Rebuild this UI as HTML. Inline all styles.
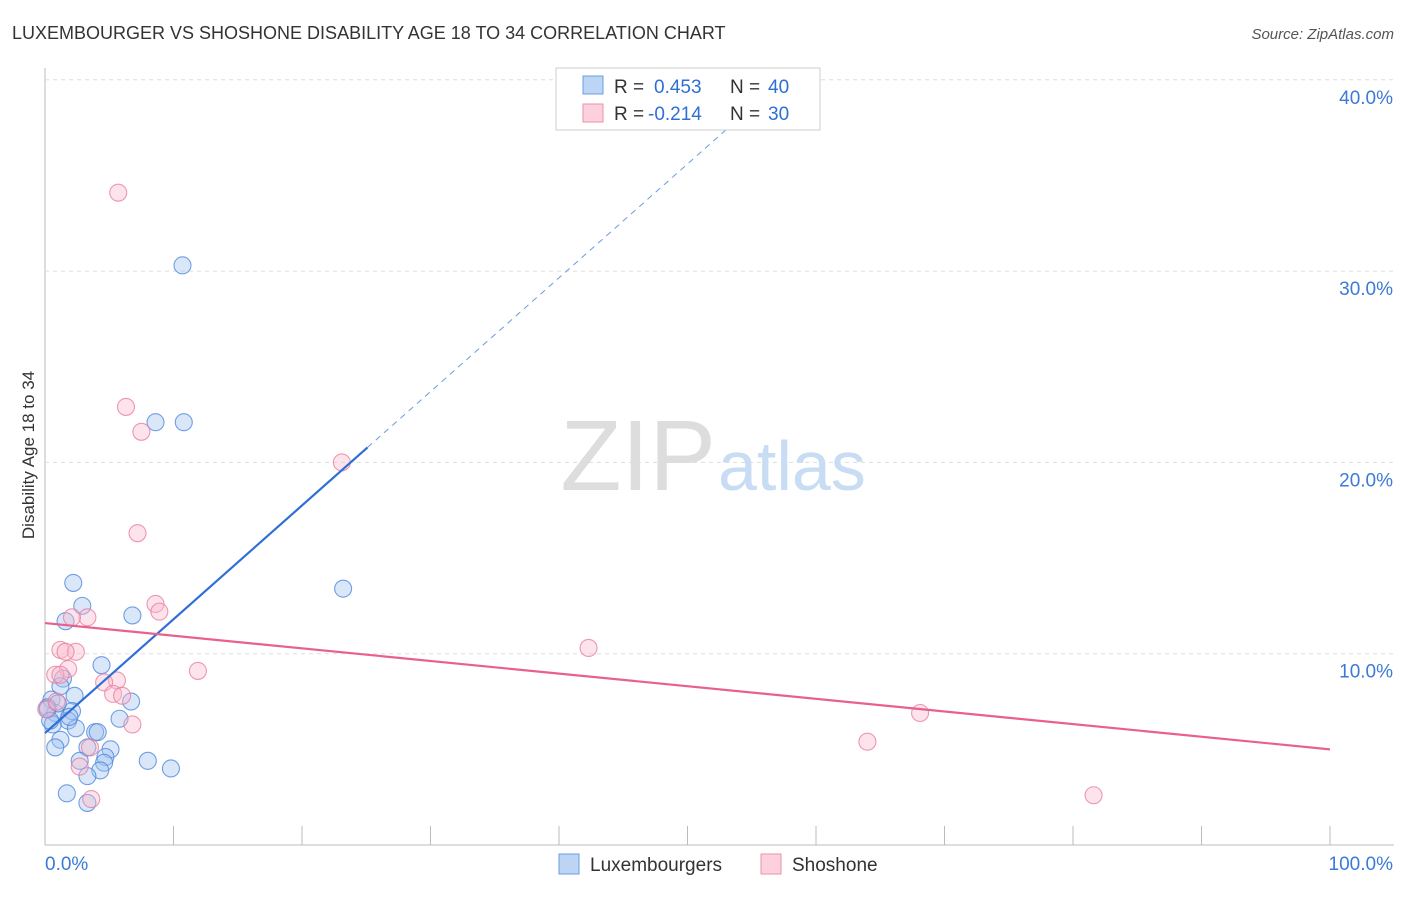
<!DOCTYPE html>
<html><head><meta charset="utf-8"><style>
body{margin:0;background:#fff;font-family:"Liberation Sans",sans-serif}
svg text{font-family:"Liberation Sans",sans-serif}
</style></head><body>
<svg id="chart" width="1406" height="892" viewBox="0 0 1406 892">
<text x="12" y="39" font-size="18" fill="#333">LUXEMBOURGER VS SHOSHONE DISABILITY AGE 18 TO 34 CORRELATION CHART</text>
<text x="1394" y="39" font-size="15" fill="#555" text-anchor="end" font-style="italic">Source: ZipAtlas.com</text>
<text x="34" y="455" font-size="17" fill="#333" text-anchor="middle" transform="rotate(-90 34 455)">Disability Age 18 to 34</text>
<g id="grid"></g>
<text x="716" y="490" font-size="100" fill="#ddd" text-anchor="end" font-family="Liberation Serif">ZIP</text>
<text x="718" y="490" font-size="70" fill="#c8dcf3">atlas</text>
<g id="pts"></g>
<g id="lines"></g>
<g>
<rect x="556" y="68" width="264" height="62" fill="#fff" stroke="#ccc"/>
<rect x="583" y="76" width="20" height="18" fill="#bcd5f5" stroke="#6a9be0"/>
<rect x="583" y="104" width="20" height="18" fill="#fcd0dd" stroke="#ee8fab"/>
<text x="614" y="93" font-size="19" fill="#333">R =</text>
<text x="654" y="93" font-size="19" fill="#2e6fd6">0.453</text>
<text x="730" y="93" font-size="19" fill="#333">N =</text>
<text x="768" y="93" font-size="19" fill="#2e6fd6">40</text>
<text x="614" y="120" font-size="19" fill="#333">R =</text>
<text x="648" y="120" font-size="19" fill="#2e6fd6">-0.214</text>
<text x="730" y="120" font-size="19" fill="#333">N =</text>
<text x="768" y="120" font-size="19" fill="#2e6fd6">30</text>
</g>
<g>
<rect x="559" y="854" width="20" height="20" fill="#bcd5f5" stroke="#6a9be0"/>
<text x="590" y="871" font-size="19" fill="#333">Luxembourgers</text>
<rect x="761" y="854" width="20" height="20" fill="#fcd0dd" stroke="#ee8fab"/>
<text x="792" y="871" font-size="19" fill="#333">Shoshone</text>
</g>
</svg>
<script>
const yTicks=[10,20,30,40];
const yTickLabels=["10.0%","20.0%","30.0%","40.0%"];
const xTickLabels=["0.0%","100.0%"];
const luxX=[10.7,8.6,10.8,23.2,2.2,2.9,1.6,6.8,1.4,4.4,1.2,2.3,6.7,0.5,0.2,0.8,2.1,5.8,1.8,0.6,2.4,3.9,4.1,1.2,3.3,5.1,0.8,4.7,2.7,8.0,4.6,4.3,9.8,3.3,1.7,3.3,0.2,0.4,1.0,1.9];
const luxY=[30.3,22.1,22.1,13.4,13.7,12.5,11.7,12.0,8.7,9.4,8.3,7.8,7.5,7.6,7.2,6.9,7.0,6.6,6.5,6.3,6.1,5.9,5.9,5.5,5.1,5.0,5.1,4.6,4.4,4.4,4.3,3.9,4.0,3.6,2.7,2.2,7.1,6.5,7.4,6.7];
const shoX=[5.7,6.3,7.5,23.1,7.2,8.6,8.9,3.3,2.1,42.3,1.2,2.4,1.6,1.8,11.9,0.8,1.2,5.6,4.6,5.3,6.0,6.8,3.5,2.7,68.1,64.0,81.6,3.6,0.1,0.9];
const shoY=[34.1,22.9,21.6,20.0,16.3,12.6,12.2,11.9,11.9,10.3,10.2,10.1,10.1,9.2,9.1,8.9,8.9,8.6,8.5,7.9,7.8,6.3,5.1,4.1,6.9,5.4,2.6,2.4,7.1,7.5];
const luxTrend=[5.85,0.595];
const shoTrend=[11.6,-0.066];
const X=v=>45+v*12.85, Y=v=>845-v*19.13;
const NS="http://www.w3.org/2000/svg";
function mk(t,a,p){const e=document.createElementNS(NS,t);for(const k in a)e.setAttribute(k,a[k]);p.appendChild(e);return e;}
const grid=document.getElementById('grid');
mk('line',{x1:45,y1:68,x2:45,y2:845,stroke:'#bbb'},grid);
mk('line',{x1:45,y1:845,x2:1394,y2:845,stroke:'#bbb'},grid);
yTicks.forEach((t,i)=>{
 const l=mk('line',{x1:45,y1:Y(t),x2:1394,y2:Y(t),stroke:'#ddd','stroke-dasharray':'4,4'},grid);
 
 
 const tx=mk('text',{x:1393,y:Y(t)+24,'font-size':19,fill:'#3b7ad8','text-anchor':'end'},grid);
 tx.textContent=yTickLabels[i];
 
 
});
for(let i=1;i<=10;i++){mk('line',{x1:X(i*10),y1:826,x2:X(i*10),y2:845,stroke:'#bbb'},grid);}
[[0,'start',45],[100,'end',1393]].forEach((d,i)=>{
 const tx=mk('text',{x:d[2],y:870,'font-size':19,fill:'#3b7ad8','text-anchor':d[1]},grid);
 tx.textContent=xTickLabels[i];
 
 
});
const pts=document.getElementById('pts');
luxX.forEach((x,i)=>{const c=mk('circle',{cx:X(x),cy:Y(luxY[i]),r:8.5,fill:'rgba(160,195,240,0.4)',stroke:'rgba(70,130,220,0.75)','stroke-width':1.1},pts);
 
 });
shoX.forEach((x,i)=>{const c=mk('circle',{cx:X(x),cy:Y(shoY[i]),r:8.5,fill:'rgba(250,185,205,0.4)',stroke:'rgba(232,120,155,0.75)','stroke-width':1.1},pts);
 
 });
const ln=document.getElementById('lines');
const lt=v=>luxTrend[0]+luxTrend[1]*v;
const l1=mk('line',{x1:X(0),y1:Y(lt(0)),x2:X(25.1),y2:Y(lt(25.1)),stroke:'#2e6fd6','stroke-width':2.2},ln);


const xe=(40-luxTrend[0])/luxTrend[1];
const l2=mk('line',{x1:X(25.1),y1:Y(lt(25.1)),x2:X(xe),y2:Y(40),stroke:'#6a9be0','stroke-width':1,'stroke-dasharray':'6,5'},ln);


const st=v=>shoTrend[0]+shoTrend[1]*v;
const l3=mk('line',{x1:X(0),y1:Y(st(0)),x2:X(100),y2:Y(st(100)),stroke:'#e8608e','stroke-width':2.2},ln);


</script>
</body></html>
